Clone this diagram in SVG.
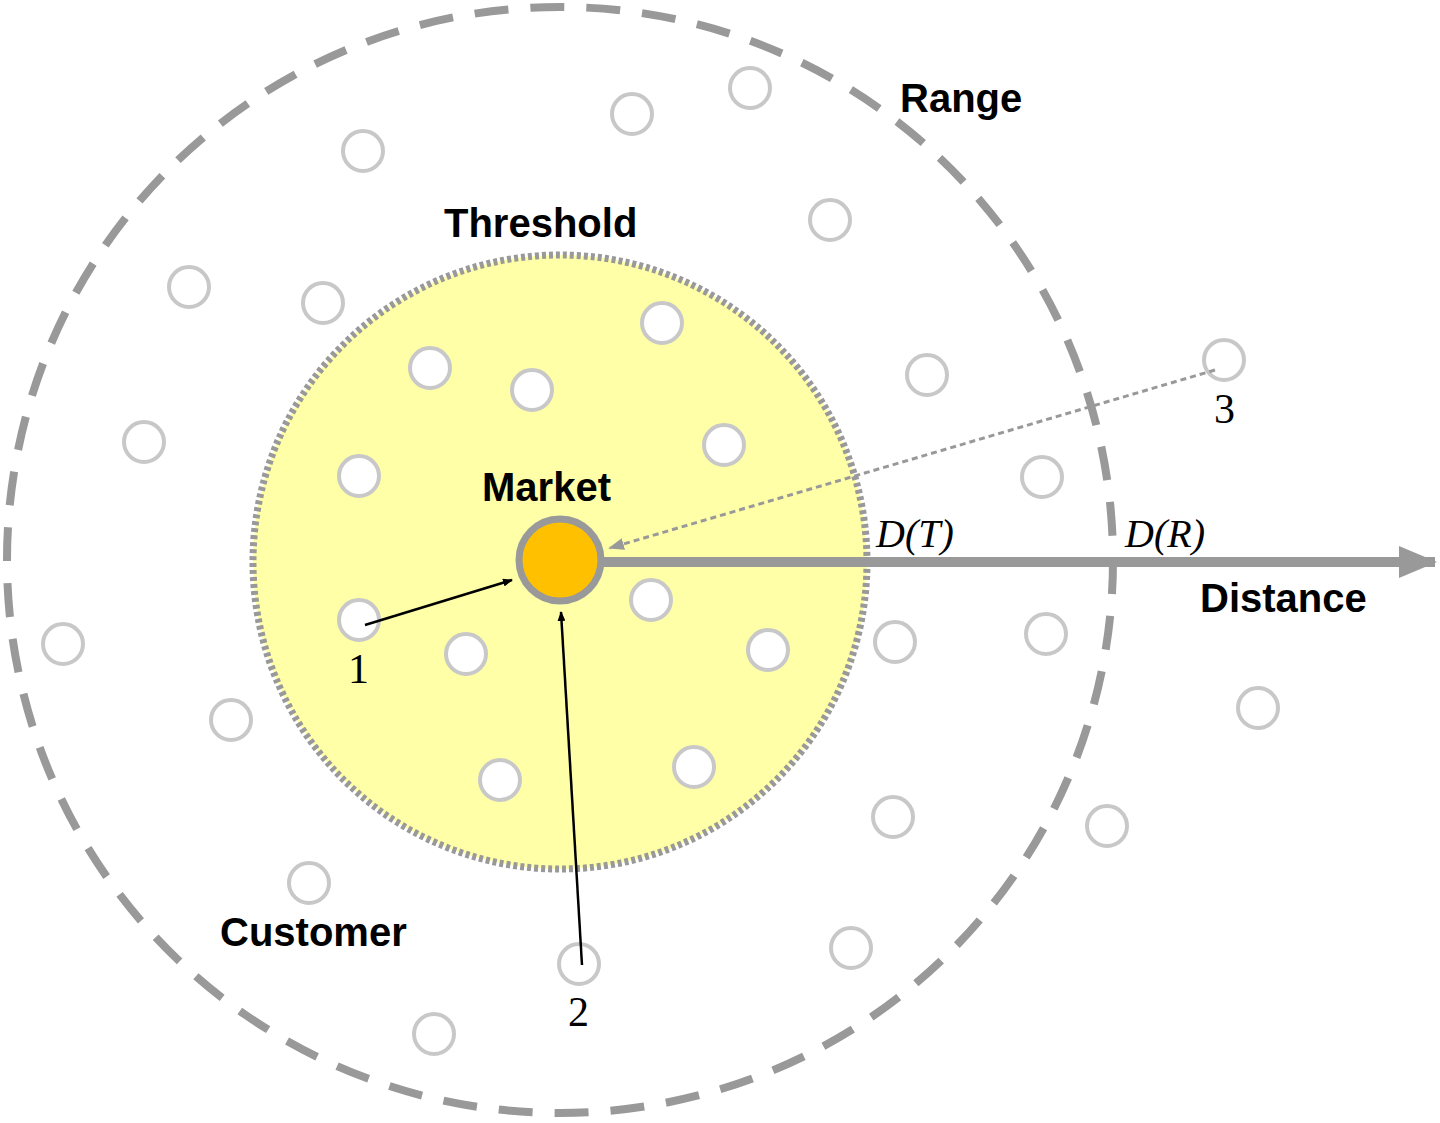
<svg xmlns="http://www.w3.org/2000/svg" width="1440" height="1123" viewBox="0 0 1440 1123">
<style>
.c{fill:#fff;stroke:#c8c8c8;stroke-width:4}
.lb{font-family:"Liberation Sans",Arial,sans-serif;font-weight:bold;font-size:40px;fill:#000}
.n{font-family:"Liberation Serif","Times New Roman",serif;font-size:42px;fill:#000}
.d{font-family:"Liberation Serif","Times New Roman",serif;font-style:italic;font-size:40px;fill:#000}
</style>
<defs>
<marker id="ab" markerWidth="10" markerHeight="8" refX="9" refY="4" orient="auto" markerUnits="userSpaceOnUse" viewBox="0 0 10 8"><path d="M0,0L10,4L0,8z" fill="#000"/></marker>
<marker id="ag" markerWidth="16" markerHeight="12" refX="14" refY="6" orient="auto" markerUnits="userSpaceOnUse" viewBox="0 0 16 12"><path d="M0,0L16,6L0,12z" fill="#999"/></marker>
<marker id="ax" markerWidth="38" markerHeight="32" refX="36" refY="16" orient="auto" markerUnits="userSpaceOnUse" viewBox="0 0 38 32"><path d="M0,0L38,16L0,32z" fill="#999"/></marker>
</defs>
<rect width="1440" height="1123" fill="#fff"/>
<g id="range"><circle cx="560" cy="560" r="553" fill="none" stroke="#999" stroke-width="8" stroke-dasharray="34,22"/></g>
<g id="threshold"><circle cx="560" cy="562" r="307" fill="#ffff99" fill-opacity="0.85" stroke="#999" stroke-width="7" stroke-dasharray="4,3"/></g>
<g id="customers">
<circle class="c" cx="750" cy="88" r="20"/><circle class="c" cx="632" cy="114" r="20"/><circle class="c" cx="363" cy="151" r="20"/><circle class="c" cx="830" cy="220" r="20"/>
<circle class="c" cx="189" cy="287" r="20"/><circle class="c" cx="323" cy="303" r="20"/><circle class="c" cx="662" cy="323" r="20"/><circle class="c" cx="430" cy="368" r="20"/>
<circle class="c" cx="532" cy="390" r="20"/><circle class="c" cx="927" cy="375" r="20"/><circle class="c" cx="1224" cy="360" r="20"/><circle class="c" cx="144" cy="442" r="20"/>
<circle class="c" cx="724" cy="445" r="20"/><circle class="c" cx="359" cy="476" r="20"/><circle class="c" cx="1042" cy="477" r="20"/><circle class="c" cx="359" cy="620" r="20"/>
<circle class="c" cx="651" cy="600" r="20"/><circle class="c" cx="466" cy="654" r="20"/><circle class="c" cx="768" cy="650" r="20"/><circle class="c" cx="895" cy="642" r="20"/>
<circle class="c" cx="1046" cy="634" r="20"/><circle class="c" cx="63" cy="644" r="20"/><circle class="c" cx="231" cy="720" r="20"/><circle class="c" cx="1258" cy="708" r="20"/>
<circle class="c" cx="500" cy="780" r="20"/><circle class="c" cx="694" cy="767" r="20"/><circle class="c" cx="893" cy="817" r="20"/><circle class="c" cx="1107" cy="826" r="20"/>
<circle class="c" cx="309" cy="883" r="20"/><circle class="c" cx="579" cy="964" r="20"/><circle class="c" cx="851" cy="948" r="20"/><circle class="c" cx="434" cy="1034" r="20"/>
</g>
<g id="connectors">
<line x1="600" y1="562" x2="1435" y2="562" stroke="#999" stroke-width="10" marker-end="url(#ax)"/>
<line x1="365" y1="625" x2="512" y2="580" stroke="#000" stroke-width="2.5" marker-end="url(#ab)"/>
<line x1="582" y1="965" x2="561" y2="612" stroke="#000" stroke-width="2.5" marker-end="url(#ab)"/>
<line x1="1215" y1="370" x2="610" y2="548" stroke="#999" stroke-width="3" stroke-dasharray="6,4" marker-end="url(#ag)"/>
</g>
<g id="market"><circle cx="560" cy="560" r="41" fill="#ffc000" stroke="#999" stroke-width="7"/></g>
<g id="labels">
<text class="lb" x="900" y="112">Range</text>
<text class="lb" x="444" y="237">Threshold</text>
<text class="lb" x="482" y="501">Market</text>
<text class="lb" x="220" y="946">Customer</text>
<text class="lb" x="1200" y="612">Distance</text>
<text class="d" x="876" y="547">D(T)</text>
<text class="d" x="1125" y="547">D(R)</text>
<text class="n" x="348" y="683">1</text>
<text class="n" x="568" y="1026">2</text>
<text class="n" x="1214" y="423">3</text>
</g>
</svg>
